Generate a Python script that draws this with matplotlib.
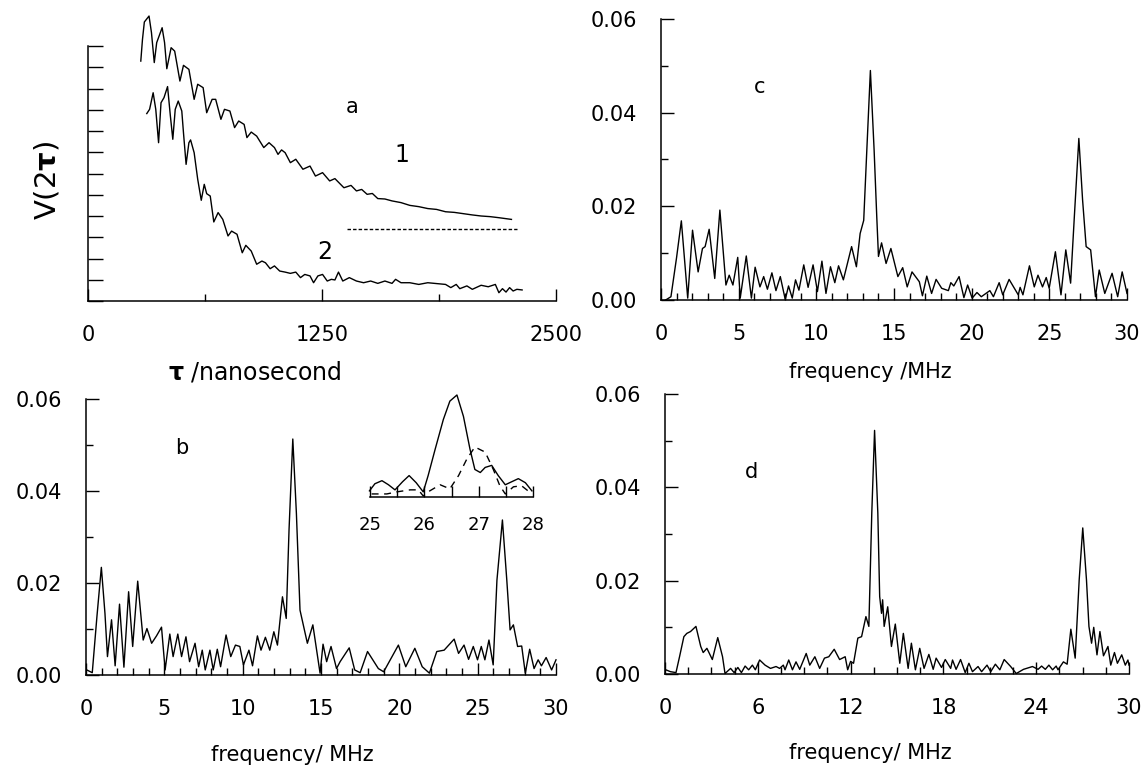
import numpy as np
import matplotlib
matplotlib.use('Agg')
from matplotlib import pyplot as plt
from matplotlib.ticker import MultipleLocator, FixedLocator

plt.rcParams['font.family'] = ['DejaVu Sans']

# panel a: echo decay V(2tau), tau in ns
tau1 = [282, 291, 301, 326, 339, 354, 367, 396, 409, 421, 444, 463, 491, 510, 539, 567, 586, 615,
        634, 663, 682, 710, 729, 758, 783, 805, 834, 849, 872, 901, 939, 967, 996, 1015, 1034, 1053,
        1081, 1110, 1148, 1186, 1215, 1253, 1291, 1319, 1367, 1405, 1434, 1462, 1491, 1519, 1548,
        1586, 1624, 1672, 1719, 1767, 1815, 1862, 1910, 1957, 2005, 2053, 2100, 2148, 2195, 2262]
v1 = [11.29, 12.31, 13.13, 13.41, 12.63, 11.22, 12.16, 12.86, 12.16, 10.93, 11.92, 11.76, 10.35,
      11.09, 10.90, 9.49, 10.20, 10.04, 8.86, 9.49, 9.49, 8.55, 9.02, 8.94, 8.16, 8.47, 8.31, 7.69,
      7.95, 7.76, 7.22, 7.45, 7.22, 6.90, 7.11, 6.98, 6.51, 6.67, 6.20, 6.35, 5.88, 6.04, 5.65, 5.76,
      5.33, 5.44, 5.18, 5.25, 5.02, 5.06, 4.82, 4.80, 4.71, 4.63, 4.50, 4.44, 4.35, 4.31, 4.20, 4.17,
      4.11, 4.05, 4.00, 3.97, 3.92, 3.84]
tau2 = [314, 329, 348, 362, 377, 390, 406, 425, 440, 453, 466, 482, 501, 510, 524, 539, 548, 567,
        586, 605, 621, 634, 653, 672, 695, 720, 748, 767, 796, 824, 843, 872, 901, 929, 948, 973, 996,
        1024, 1053, 1081, 1110, 1135, 1158, 1186, 1205, 1228, 1253, 1278, 1300, 1319, 1338, 1361,
        1396, 1434, 1472, 1510, 1548, 1586, 1624, 1643, 1672, 1719, 1767, 1815, 1862, 1910, 1938,
        1967, 1986, 2024, 2053, 2100, 2138, 2176, 2195, 2214, 2233, 2252, 2271, 2291, 2319]
v2 = [8.82, 9.02, 9.80, 9.02, 7.45, 9.33, 9.57, 10.09, 8.71, 7.61, 9.02, 9.41, 8.94, 7.92, 6.43,
      7.45, 7.58, 6.98, 5.73, 4.74, 5.49, 5.05, 4.94, 3.72, 4.16, 3.84, 3.06, 3.29, 3.14, 2.27, 2.62,
      2.35, 1.73, 1.88, 1.80, 1.52, 1.65, 1.41, 1.36, 1.30, 1.36, 1.10, 1.25, 1.18, 0.86, 1.18, 1.25,
      0.94, 1.02, 0.99, 1.36, 0.94, 1.10, 0.94, 0.86, 0.94, 0.83, 0.94, 0.83, 1.02, 0.86, 0.86, 0.78,
      0.86, 0.82, 0.78, 0.63, 0.78, 0.58, 0.71, 0.55, 0.74, 0.67, 0.78, 0.39, 0.58, 0.42, 0.63, 0.47,
      0.55, 0.52]
base_tau = [1386, 2291]
base_v = [3.37, 3.37]

# panel b spectrum
b_f = [0.05, 0.4, 0.7, 0.98, 1.21, 1.37, 1.63, 1.86, 2.14, 2.42, 2.72, 2.98, 3.3, 3.65, 3.89, 4.19,
       4.5, 4.82, 5.05, 5.35, 5.56, 5.86, 6.1, 6.38, 6.61, 6.96, 7.19, 7.42, 7.61, 7.91, 8.12, 8.38,
       8.59, 8.94, 9.24, 9.54, 9.82, 10.05, 10.4, 10.63, 10.94, 11.17, 11.45, 11.73, 11.99, 12.22,
       12.54, 12.78, 12.96, 13.2, 13.43, 13.66, 14.13, 14.48, 14.94, 15.13, 15.36, 15.64, 15.99,
       16.22, 16.8, 17.15, 17.5, 17.97, 18.66, 19.0, 19.94, 20.41, 20.99, 21.46, 21.92, 22.39, 22.86,
       23.5, 23.78, 24.13, 24.42, 24.72, 24.99, 25.23, 25.46, 25.72, 25.99, 26.23, 26.58, 26.86,
       27.07, 27.28, 27.55, 27.81, 28.04, 28.32, 28.6, 28.86, 29.07, 29.37, 29.72, 30.0]
b_v = [0.0011, 0.0005, 0.0128, 0.0234, 0.0134, 0.004, 0.012, 0.002, 0.0154, 0.0017, 0.0181, 0.0062,
       0.0204, 0.0076, 0.0101, 0.0069, 0.0085, 0.0104, 0.0011, 0.0089, 0.004, 0.0089, 0.004, 0.0083,
       0.0029, 0.0069, 0.0018, 0.0054, 0.0011, 0.0054, 0.0011, 0.0056, 0.0018, 0.0087, 0.004, 0.0065,
       0.0062, 0.0022, 0.0054, 0.002, 0.0085, 0.0054, 0.0082, 0.0054, 0.0094, 0.0065, 0.017, 0.0123,
       0.0316, 0.0513, 0.0351, 0.0141, 0.0069, 0.0109, 0.0004, 0.0067, 0.0029, 0.0062, 0.0014,
       0.0029, 0.0059, 0.0011, 0.0005, 0.0051, 0.0014, 0.0007, 0.0065, 0.0018, 0.0058, 0.0018,
       0.0004, 0.0051, 0.0054, 0.0078, 0.0047, 0.0065, 0.0034, 0.0062, 0.0033, 0.0062, 0.0033,
       0.0076, 0.0022, 0.0206, 0.0337, 0.0206, 0.0098, 0.0109, 0.0062, 0.0063, 0.0004, 0.0056,
       0.0014, 0.0033, 0.002, 0.0038, 0.0011, 0.0033]

# panel b inset (25-28 MHz, relative height)
ins_f = [24.99, 25.09, 25.22, 25.34, 25.46, 25.6, 25.72, 25.85, 25.98, 26.07, 26.2, 26.35, 26.47,
         26.6, 26.72, 26.84, 26.93, 27.03, 27.12, 27.24, 27.36, 27.49, 27.61, 27.73, 27.86, 27.98]
ins_v = [0.06, 0.13, 0.16, 0.12, 0.07, 0.15, 0.21, 0.14, 0.05, 0.21, 0.47, 0.76, 0.94, 1.0, 0.79,
         0.47, 0.27, 0.24, 0.29, 0.31, 0.21, 0.12, 0.15, 0.18, 0.14, 0.06]
ins2_f = [25.03, 25.31, 25.49, 25.74, 25.89, 25.98, 26.1, 26.29, 26.47, 26.63, 26.78, 26.93, 27.12,
          27.27, 27.39, 27.49, 27.64, 27.79, 27.98]
ins2_v = [0.03, 0.03, 0.05, 0.07, 0.07, 0.01, 0.06, 0.12, 0.08, 0.21, 0.37, 0.49, 0.44, 0.27, 0.11,
          0.03, 0.10, 0.11, 0.03]
ins_ticks = [25, 26, 27, 28]

# panel c spectrum
c_f = [0.3, 0.64, 1.0, 1.31, 1.72, 2.03, 2.39, 2.67, 2.84, 3.10, 3.46, 3.79, 4.18, 4.39, 4.63, 4.94,
       5.10, 5.49, 5.82, 6.06, 6.37, 6.61, 6.85, 7.14, 7.40, 7.68, 8.0, 8.21, 8.45, 8.66, 8.88, 9.19,
       9.47, 9.79, 10.07, 10.36, 10.62, 10.91, 11.19, 11.43, 11.74, 12.27, 12.58, 12.82, 13.05,
       13.25, 13.48, 13.72, 13.89, 14.0, 14.2, 14.49, 14.8, 15.25, 15.56, 15.85, 16.16, 16.63,
       16.83, 17.11, 17.42, 17.71, 18.07, 18.5, 18.66, 18.85, 19.19, 19.5, 19.74, 20.03, 20.34,
       20.62, 21.17, 21.4, 21.77, 22.0, 22.41, 23.0, 23.12, 23.3, 23.72, 24.03, 24.27, 24.56, 24.8,
       24.99, 25.39, 25.75, 26.06, 26.37, 26.61, 26.9, 27.14, 27.37, 27.66, 27.97, 28.21, 28.57,
       29.04, 29.4, 29.69, 30.0]
c_v = [0.0, 0.0007, 0.009, 0.0169, 0.0004, 0.0149, 0.006, 0.011, 0.0114, 0.0151, 0.0046, 0.0192,
       0.0032, 0.0053, 0.0032, 0.0091, 0.0004, 0.0094, 0.0004, 0.007, 0.0028, 0.005, 0.0023, 0.0058,
       0.002, 0.005, 0.0001, 0.003, 0.0004, 0.0043, 0.0021, 0.0075, 0.0027, 0.0075, 0.0018, 0.0083,
       0.0014, 0.0071, 0.0037, 0.0073, 0.0043, 0.0114, 0.0071, 0.0142, 0.017, 0.032, 0.049, 0.032,
       0.0178, 0.0093, 0.0122, 0.0078, 0.011, 0.005, 0.0069, 0.0028, 0.006, 0.0039, 0.0009, 0.0051,
       0.0014, 0.0044, 0.0025, 0.002, 0.0037, 0.003, 0.005, 0.0005, 0.0032, 0.0004, 0.0016, 0.0007,
       0.002, 0.0007, 0.0037, 0.0011, 0.0044, 0.0011, 0.0027, 0.0011, 0.0073, 0.0028, 0.0053,
       0.0028, 0.0048, 0.0025, 0.0103, 0.0011, 0.0107, 0.0036, 0.0178, 0.0345, 0.0214, 0.0114,
       0.0107, 0.0007, 0.0064, 0.0014, 0.0057, 0.0007, 0.006, 0.0014]

# panel d spectrum
d_f = [0.05, 0.35, 0.71, 0.94, 1.22, 1.41, 1.65, 2.0, 2.31, 2.47, 2.71, 3.06, 3.41, 3.72, 3.88, 4.24,
       4.47, 4.71, 4.94, 5.18, 5.41, 5.65, 5.84, 6.12, 6.47, 6.82, 7.18, 7.41, 7.65, 7.76, 8.0, 8.24,
       8.47, 8.71, 9.13, 9.36, 9.69, 10.0, 10.31, 10.59, 10.94, 11.29, 11.65, 11.81, 12.0, 12.19,
       12.47, 12.71, 12.99, 13.18, 13.37, 13.55, 13.76, 13.88, 14.0, 14.07, 14.17, 14.4, 14.64,
       14.89, 15.18, 15.41, 15.72, 15.93, 16.19, 16.47, 16.75, 17.06, 17.34, 17.53, 17.88, 18.12,
       18.47, 18.59, 18.82, 19.11, 19.41, 19.65, 19.88, 20.24, 20.47, 20.82, 21.06, 21.36, 21.65,
       21.93, 22.35, 22.71, 23.18, 23.76, 24.12, 24.35, 24.59, 24.82, 25.06, 25.29, 25.41, 25.76,
       26.0, 26.24, 26.52, 26.78, 27.01, 27.25, 27.41, 27.58, 27.72, 27.93, 28.12, 28.35, 28.64,
       28.82, 29.06, 29.25, 29.53, 29.76, 29.93, 30.0]
d_v = [0.0009, 0.0005, 0.0003, 0.0037, 0.008, 0.0087, 0.0091, 0.0102, 0.0059, 0.0046, 0.0055,
       0.0031, 0.0078, 0.0037, 0.0001, 0.0012, 0.0003, 0.0014, 0.0003, 0.0017, 0.0009, 0.0019,
       0.0009, 0.003, 0.0019, 0.0012, 0.0016, 0.0012, 0.0019, 0.0009, 0.003, 0.0009, 0.0026, 0.001,
       0.0044, 0.0019, 0.0037, 0.0012, 0.0034, 0.0037, 0.0053, 0.0031, 0.0037, 0.0009, 0.0027,
       0.0023, 0.0077, 0.008, 0.0123, 0.0102, 0.0345, 0.0522, 0.0345, 0.0166, 0.013, 0.0159, 0.0102,
       0.0144, 0.0059, 0.0107, 0.0023, 0.0087, 0.0012, 0.0066, 0.0009, 0.0055, 0.0012, 0.0042,
       0.001, 0.0034, 0.0014, 0.0031, 0.0012, 0.003, 0.001, 0.0031, 0.0003, 0.0023, 0.0005, 0.0016,
       0.0005, 0.0019, 0.0005, 0.0021, 0.0009, 0.0031, 0.0016, 0.0001, 0.001, 0.0016, 0.001, 0.0017,
       0.001, 0.0019, 0.0009, 0.0017, 0.0009, 0.0026, 0.0021, 0.0096, 0.0034, 0.0202, 0.0313,
       0.0202, 0.0102, 0.0066, 0.01, 0.0041, 0.0091, 0.0039, 0.0059, 0.0019, 0.0046, 0.0023, 0.0041,
       0.0019, 0.003, 0.0019]

W, H = 1141, 767
LW = 1.0
FS = 15


def box(left, right, top, bottom):
    return [left / W, 1 - bottom / H, (right - left) / W, (bottom - top) / H]


def style(ax):
    for s in ['top', 'right']:
        ax.spines[s].set_visible(False)
    for s in ['left', 'bottom']:
        ax.spines[s].set_linewidth(1.1)
    ax.tick_params(which='both', direction='in', width=1.0, labelsize=FS, pad=17)
    ax.tick_params(which='major', length=9)
    ax.tick_params(which='minor', length=5)


def spectrum(ax, f, v, xmaj, xmin):
    ax.plot(f, v, color='k', lw=LW, clip_on=False)
    ax.set_xlim(0, 30)
    ax.set_ylim(0, 0.06)
    ax.xaxis.set_major_locator(MultipleLocator(xmaj))
    ax.xaxis.set_minor_locator(MultipleLocator(xmin))
    ax.yaxis.set_major_locator(MultipleLocator(0.02))
    ax.yaxis.set_minor_locator(MultipleLocator(0.01))
    ax.yaxis.set_major_formatter(matplotlib.ticker.FormatStrFormatter('%.2f'))
    style(ax)


def figtext(x, y, s, **kw):
    fig.text(x / W, 1 - y / H, s, ha='center', va='center', **kw)


fig = plt.figure(figsize=(W / 100, H / 100), dpi=100)

# a
ax_a = fig.add_axes(box(88, 556, 46, 301))
ax_a.plot(tau1, v1, color='k', lw=LW, clip_on=False)
ax_a.plot(tau2, v2, color='k', lw=LW, clip_on=False)
ax_a.plot(base_tau, base_v, color='k', lw=1.0, ls=(0, (2.5, 1.5)))
ax_a.set_xlim(0, 2500)
ax_a.set_ylim(0, 12)
style(ax_a)
ax_a.set_xticks([0, 1250, 2500])
ax_a.xaxis.set_minor_locator(FixedLocator([625, 1875]))
ax_a.set_yticks(range(13))
ax_a.tick_params(axis='y', length=11, labelleft=False)
figtext(47, 180, r'V(2$\mathbf{\tau}$)', fontsize=21, rotation=90)
figtext(255, 372, r'$\mathbf{\tau}$ /nanosecond', fontsize=17)
figtext(352, 107, 'a', fontsize=FS)
figtext(402, 155, '1', fontsize=17)
figtext(325, 252, '2', fontsize=17)

# c
ax_c = fig.add_axes(box(661, 1127, 19, 300))
spectrum(ax_c, c_f, c_v, 5, 1)
figtext(760, 87, 'c', fontsize=FS)
figtext(870, 372, 'frequency /MHz', fontsize=FS)

# b
ax_b = fig.add_axes(box(86, 556, 399, 675))
spectrum(ax_b, b_f, b_v, 5, 1)
figtext(182, 448, 'b', fontsize=FS)
figtext(292, 755, 'frequency/ MHz', fontsize=FS)

axi = fig.add_axes(box(370, 533, 395, 497))
axi.plot(ins_f, ins_v, color='k', lw=LW, clip_on=False)
axi.plot(ins2_f, ins2_v, color='k', lw=LW, ls=(0, (5, 4)), clip_on=False)
axi.set_xlim(25, 28)
axi.set_ylim(0, 1)
for s in ['top', 'right', 'left']:
    axi.spines[s].set_visible(False)
axi.spines['bottom'].set_linewidth(1.1)
axi.set_yticks([])
axi.set_xticks(ins_ticks)
axi.xaxis.set_minor_locator(MultipleLocator(0.5))
axi.tick_params(which='both', direction='in', length=8, width=1.0, labelsize=13, pad=14)

# d
ax_d = fig.add_axes(box(665, 1129, 394, 674))
spectrum(ax_d, d_f, d_v, 6, 1.5)
figtext(751, 472, 'd', fontsize=FS)
figtext(870, 753, 'frequency/ MHz', fontsize=FS)

fig.savefig('out.png', dpi=100)
